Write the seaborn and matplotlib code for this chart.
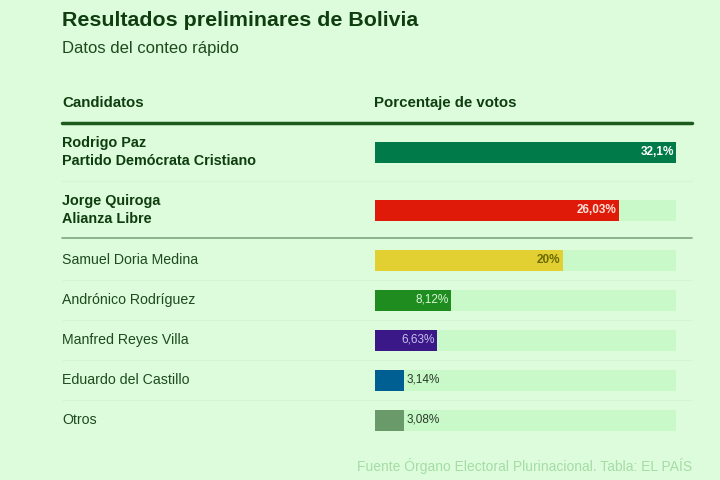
import matplotlib
matplotlib.use("Agg")
import matplotlib.pyplot as plt
import seaborn as sns
import pandas as pd

# ---- data ----
candidatos = ["Rodrigo Paz", "Jorge Quiroga", "Samuel Doria Medina", "Andrónico Rodríguez",
              "Manfred Reyes Villa", "Eduardo del Castillo", "Otros"]
partidos = ["Partido Demócrata Cristiano", "Alianza Libre", "", "", "", "", ""]
votos = [32.1, 26.03, 20.0, 8.12, 6.63, 3.14, 3.08]
etiquetas = ["32,1%", "26,03%", "20%", "8,12%", "6,63%", "3,14%", "3,08%"]
colores = ["#007a48", "#e01a08", "#e2d032", "#1f8c1f", "#3a1888", "#005f92", "#6a9a6a"]
titulo = "Resultados preliminares de Bolivia"
subtitulo = "Datos del conteo rápido"
fuente = "Fuente Órgano Electoral Plurinacional. Tabla: EL PAÍS"

BG = "#dcfcdc"
TRACK = "#c9f9c9"
DARK = "#0f3d0f"

sns.set_theme(style="white")
plt.rcParams["font.family"] = ["Liberation Sans", "DejaVu Sans"]

fig = plt.figure(figsize=(7.2, 4.8), dpi=100, facecolor=BG)
W, H = 720, 480

# layout (pixel rows)
row_y = [152, 210, 260, 300, 340, 380, 420]
x0, x1 = 375, 676

ax = fig.add_axes([x0 / W, 0, (x1 - x0) / W, 1])
ax.set_facecolor("none")

df = pd.DataFrame({"cand": candidatos, "votos": votos, "y": row_y,
                   "track": [max(votos)] * len(votos)})
bw = 21 / 40
sns.barplot(data=df, x="track", y="y", orient="h", native_scale=True, width=bw,
            color=TRACK, saturation=1, ax=ax, legend=False, linewidth=0)
sns.barplot(data=df, x="votos", y="y", hue="cand", palette=colores, orient="h",
            native_scale=True, width=bw, saturation=1, ax=ax, legend=False, linewidth=0)
ax.set_xlim(0, max(votos))
ax.set_ylim(H, 0)
ax.axis("off")

# value labels
txtcol = ["white", "#fde0d8", "#6a6a00", "#d8f8d8", "#c8c0f0", "#2a3a2a", "#2a3a2a"]
for i, (v, lab, yy) in enumerate(zip(votos, etiquetas, row_y)):
    if v > 5:
        ax.text(v - 0.25, yy, lab, ha="right", va="center", fontsize=8.5,
                color=txtcol[i], fontweight="bold" if i < 3 else "normal")
    else:
        ax.text(v + 0.25, yy, lab, ha="left", va="center", fontsize=8.5, color=txtcol[i])


def ftext(x, y, s, **kw):
    fig.text(x / W, 1 - y / H, s, **kw)


ftext(62, 21, titulo, fontsize=15.4, fontweight="bold", color=DARK, va="center")
ftext(62, 49, subtitulo, fontsize=12, color="#1e4a1e", va="center")
ftext(62, 103, "Candidatos", fontsize=10.8, fontweight="bold", color=DARK, va="center")
ftext(374, 103, "Porcentaje de votos", fontsize=10.8, fontweight="bold", color=DARK, va="center")

for i, (c, p, yy) in enumerate(zip(candidatos, partidos, row_y)):
    if p:
        ftext(62, yy - 9, c, fontsize=10.4, fontweight="bold", color=DARK, va="center")
        ftext(62, yy + 9, p, fontsize=10.4, fontweight="bold", color=DARK, va="center")
    else:
        ftext(62, yy, c, fontsize=10.2, color="#1e4a1e", va="center")

ftext(692, 466, fuente, fontsize=10, color="#a6dca6", va="center", ha="right")

# rules
fig.add_artist(plt.Line2D([62 / W, 692 / W], [1 - 123 / H] * 2, color="#1d5a1d", lw=2.5))
fig.add_artist(plt.Line2D([62 / W, 692 / W], [1 - 238 / H] * 2, color="#7fa67f", lw=1.2))
for yy in [181, 280, 320, 360, 400]:
    fig.add_artist(plt.Line2D([62 / W, 692 / W], [1 - yy / H] * 2, color="#d4f6d4", lw=0.8))

fig.savefig("out.png", dpi=100, facecolor=BG)
